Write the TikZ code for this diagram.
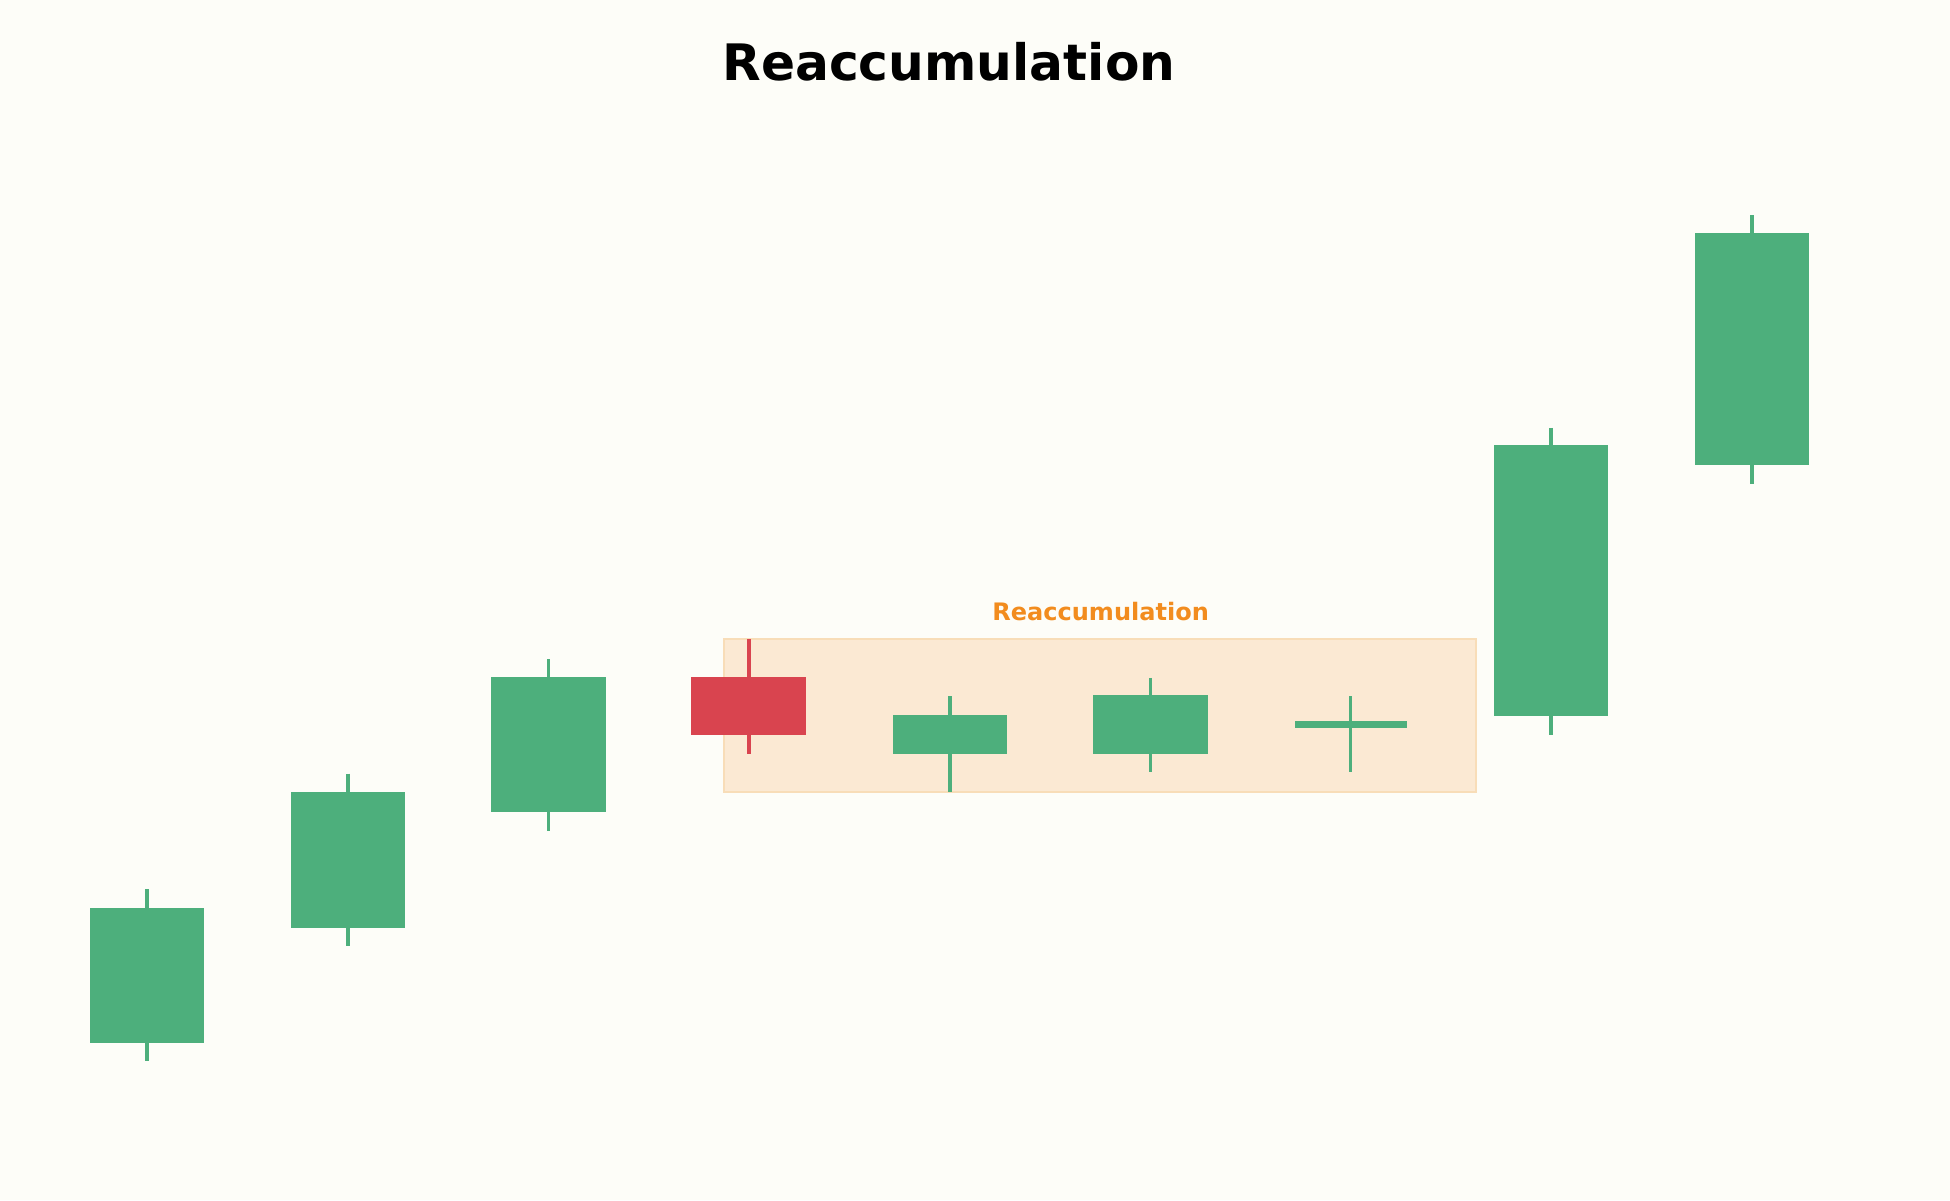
\documentclass[tikz,border=0pt]{standalone}
\usepackage{fontspec}
\setmainfont{DejaVu Sans}
\usetikzlibrary{positioning}
\definecolor{bgcol}{HTML}{FDFDF8}
\definecolor{upcol}{HTML}{4DAF7C}
\definecolor{downcol}{HTML}{D9444F}
\definecolor{zonefill}{HTML}{FBE9D3}
\definecolor{zoneline}{HTML}{F8DDB8}
\definecolor{zonetext}{HTML}{F28C1E}
\tikzset{
  wick/.style={line width=1.7pt},
  body/.style={draw=none},
  zone/.style={fill=zonefill, draw=zoneline, line width=1pt},
}
\begin{document}
\begin{tikzpicture}[x=0.02cm,y=-0.02cm]
        \fill[bgcol] (0,0) rectangle (1568,965);
        \useasboundingbox (0,0) rectangle (1568,965);

        \node[font=\bfseries\fontsize{23}{26}\selectfont] (title) at (763,50) {Reaccumulation};

        % range zone
        \draw[zone] (582,514) rectangle (1187,637);
        \node[font=\bfseries\fontsize{11}{13}\selectfont, text=zonetext] (zonelabel) at (885,492) {Reaccumulation};

        % candles: center / body top / body bottom / wick top / wick bottom / colour
        \foreach \cx/\bt/\bb/\wt/\wb/\col in {
            118/730/839/715/853/upcol,
            280/637/746/622/761/upcol,
            441/544/653/530/668/upcol,
            602/544/591/514/606/downcol,
            764/575/606/560/637/upcol,
            925/559/606/545/621/upcol,
            1247/358/576/344/591/upcol,
            1409/187/374/173/389/upcol}
        {
            \draw[wick, \col] (\cx,\wt) -- (\cx,\wb);
            \fill[\col] (\cx-46,\bt) rectangle (\cx+46,\bb);
        }
        % doji
        \draw[wick, upcol] (1086,560) -- (1086,621);
        \fill[upcol] (1041,580) rectangle (1131,585);
    \end{tikzpicture}
\end{document}
